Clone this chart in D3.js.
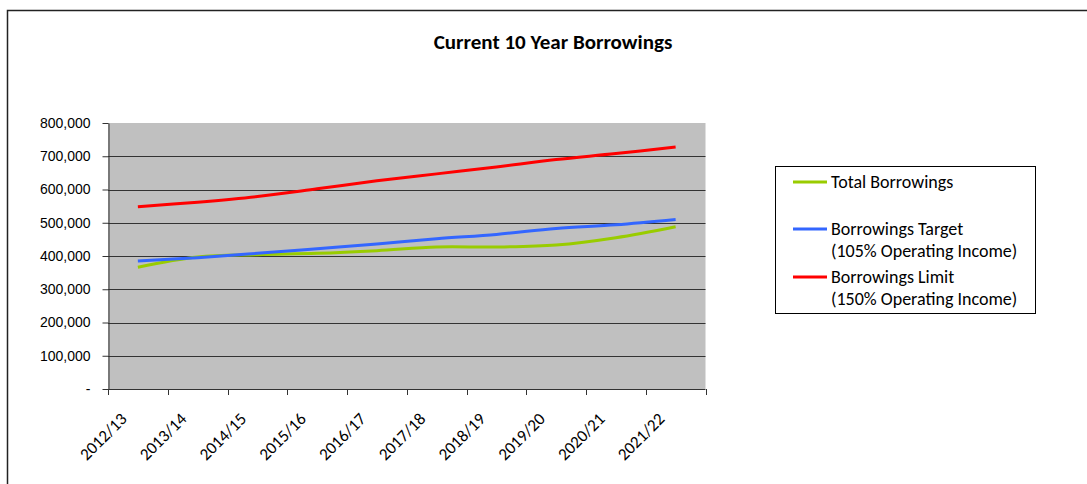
<!DOCTYPE html>
<html>
<head>
<meta charset="utf-8">
<script src="https://cdn.jsdelivr.net/npm/d3@7"></script>
<style>
  body { margin: 0; background: #fff; }
  svg { display: block; }
</style>
</head>
<body>
<svg width="1087" height="484"></svg>
<script>
const years = ["2012/13", "2013/14", "2014/15", "2015/16", "2016/17", "2017/18", "2018/19", "2019/20", "2020/21", "2021/22"];
const totalBorrowings = [366000, 397000, 404000, 408000, 416000, 427000, 427000, 433000, 455000, 488000];
const borrowingsTarget = [385000, 395000, 408000, 422000, 436000, 452000, 465000, 483000, 494000, 510000];
const borrowingsLimit = [548000, 562000, 579000, 602000, 626000, 647000, 668000, 690000, 708000, 728000];
const yTicks = [0, 100000, 200000, 300000, 400000, 500000, 600000, 700000, 800000];
const seriesNames = [
  ["Total Borrowings"],
  ["Borrowings Target", "(105% Operating Income)"],
  ["Borrowings Limit", "(150% Operating Income)"]
];
const seriesColors = ["#99cc00", "#3366ff", "#ff0000"];

const svg = d3.select("svg");
const calibri = "Carlito, Lato, 'Open Sans', sans-serif";

const plot = { left: 108, right: 705.5, top: 123, bottom: 389 };

const x = d3.scaleBand()
  .domain(years)
  .range([plot.left, plot.right]);

const y = d3.scaleLinear()
  .domain([0, 800000])
  .range([plot.bottom, plot.top]);

// outer chart frame (runs off the right and bottom)
svg.append("rect")
  .attr("x", 7.5)
  .attr("y", 10.5)
  .attr("width", 1200)
  .attr("height", 600)
  .attr("fill", "none")
  .attr("stroke", "#222")
  .attr("stroke-width", 1.5);

svg.append("text")
  .attr("x", 553)
  .attr("y", 49)
  .attr("text-anchor", "middle")
  .style("font-family", calibri)
  .style("font-weight", "bold")
  .style("font-size", "21px")
  .text("Current 10 Year Borrowings");

svg.append("rect")
  .attr("x", plot.left)
  .attr("y", plot.top)
  .attr("width", plot.right - plot.left)
  .attr("height", plot.bottom - plot.top)
  .attr("fill", "#c0c0c0");

svg.append("g")
  .selectAll("line")
  .data(yTicks.filter(d => d > 0 && d < 800000))
  .join("line")
  .attr("x1", plot.left)
  .attr("x2", plot.right)
  .attr("y1", d => Math.round(y(d)) + 0.5)
  .attr("y2", d => Math.round(y(d)) + 0.5)
  .attr("stroke", "#333")
  .attr("stroke-width", 1);

// y axis
const yAxis = svg.append("g")
  .attr("transform", `translate(${plot.left + 0.5},0)`)
  .call(d3.axisLeft(y)
    .tickValues(yTicks)
    .tickSize(6)
    .tickSizeOuter(0)
    .tickPadding(12)
    .tickFormat(d => d === 0 ? "-" : d3.format(",")(d)));
yAxis.selectAll("path, line").attr("stroke", "#333");
yAxis.selectAll("text")
  .style("font-family", "'Liberation Sans', Arial, sans-serif")
  .style("font-size", "14px")
  .attr("fill", "#000");

// x axis line and boundary ticks
svg.append("line")
  .attr("x1", plot.left)
  .attr("x2", plot.right)
  .attr("y1", plot.bottom + 0.5)
  .attr("y2", plot.bottom + 0.5)
  .attr("stroke", "#333");

svg.append("g")
  .selectAll("line")
  .data(years.map(d => x(d)).concat([plot.right]))
  .join("line")
  .attr("x1", d => Math.round(d) + 0.5)
  .attr("x2", d => Math.round(d) + 0.5)
  .attr("y1", plot.bottom)
  .attr("y2", plot.bottom + 6)
  .attr("stroke", "#333");

svg.append("g")
  .selectAll("text")
  .data(years)
  .join("text")
  .attr("transform", d => `translate(${x(d) + x.bandwidth() / 2 - 10},${plot.bottom + 31}) rotate(-45)`)
  .attr("text-anchor", "end")
  .style("font-family", calibri)
  .style("font-size", "17px")
  .text(d => d);

// series lines
const line = d3.line()
  .x((d, i) => x(years[i]) + x.bandwidth() / 2)
  .y(d => y(d))
  .curve(d3.curveCatmullRom.alpha(0.5));

svg.append("g")
  .selectAll("path")
  .data([totalBorrowings, borrowingsTarget, borrowingsLimit])
  .join("path")
  .attr("d", line)
  .attr("fill", "none")
  .attr("stroke", (d, i) => seriesColors[i])
  .attr("stroke-width", 3);

// legend
const legend = svg.append("g");
legend.append("rect")
  .attr("x", 775.5)
  .attr("y", 166.5)
  .attr("width", 260)
  .attr("height", 147)
  .attr("fill", "#fff")
  .attr("stroke", "#000");

const legendY = [182, 229, 277];
const items = legend.selectAll("g.item")
  .data(seriesNames)
  .join("g")
  .attr("class", "item")
  .attr("transform", (d, i) => `translate(0,${legendY[i]})`);

items.append("line")
  .attr("x1", 793)
  .attr("x2", 827)
  .attr("stroke", (d, i) => seriesColors[i])
  .attr("stroke-width", 3);

items.selectAll("text")
  .data(d => d)
  .join("text")
  .attr("x", 831)
  .attr("y", (d, i) => 6 + i * 22)
  .style("font-family", calibri)
  .style("font-size", "18px")
  .text(d => d);
</script>
</body>
</html>
